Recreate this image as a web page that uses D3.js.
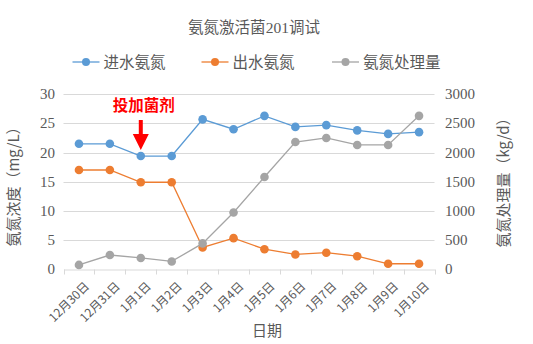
<!DOCTYPE html>
<html><head><meta charset="utf-8">
<script src="https://cdn.jsdelivr.net/npm/d3@7"></script>
<style>
html,body{margin:0;padding:0;background:#fff;}
svg{display:block;}
text{font-family:"Liberation Serif","Noto Sans CJK SC",serif;fill:#595959;}
.cjk{font-family:"Noto Sans CJK SC","Liberation Serif",sans-serif;}
</style></head>
<body>
<script>
const categories = ["12月30日","12月31日","1月1日","1月2日","1月3日","1月4日","1月5日","1月6日","1月7日","1月8日","1月9日","1月10日"];
const inflowNH3 = [21.5,21.5,19.4,19.4,25.7,24.0,26.3,24.4,24.7,23.8,23.2,23.5];
const outflowNH3 = [17.0,17.0,14.9,14.9,3.7,5.3,3.4,2.5,2.8,2.2,0.9,0.9];
const removalLoad = [70,240,190,130,440,970,1580,2180,2250,2130,2130,2630];
const leftTicks = [0,5,10,15,20,25,30];
const rightTicks = [0,500,1000,1500,2000,2500,3000];
const seriesNames = ["进水氨氮","出水氨氮","氨氮处理量"];
const colors = ["#5B9BD5","#ED7D31","#A5A5A5"];

const W=533,H=344;
const svg=d3.select("body").append("svg").attr("width",W).attr("height",H);
const L=63.5,R=434.5,T=94.3,B=269;

const x=d3.scaleBand().domain(categories).range([L,R]);
const yL=d3.scaleLinear().domain([0,30]).range([B,T]);
const yR=d3.scaleLinear().domain([0,3000]).range([B,T]);

// title
const title=svg.append("text").attr("x",254).attr("y",33).attr("text-anchor","middle")
  .attr("class","cjk").style("font-size","15.5px");
title.append("tspan").text("氨氮激活菌");
title.append("tspan").style("font-family","Liberation Serif").text("201");
title.append("tspan").text("调试");

// gridlines
svg.append("g").selectAll("line").data(leftTicks.slice(1)).join("line")
  .attr("x1",L).attr("x2",R).attr("y1",d=>Math.round(yL(d))+0.5).attr("y2",d=>Math.round(yL(d))+0.5)
  .attr("stroke","#D9D9D9").attr("stroke-width",1);

// left axis labels
svg.append("g").selectAll("text").data(leftTicks).join("text")
  .attr("x",55).attr("y",d=>yL(d)+5).attr("text-anchor","end")
  .style("font-size","15px").text(d=>d);
// right axis labels
svg.append("g").selectAll("text").data(rightTicks).join("text")
  .attr("x",445).attr("y",d=>yR(d)+5).attr("text-anchor","start")
  .style("font-size","15px").text(d=>d);

// bottom axis
const xAxis=d3.axisBottom(x).tickSize(0).tickFormat(()=> "");
const gx=svg.append("g").attr("transform",`translate(0,${Math.round(B)+0.5})`).call(xAxis);
gx.select(".domain").attr("stroke","#D9D9D9");
const edges=categories.map((c,i)=>L+i*x.step()).concat([R]);
gx.selectAll(".edge").data(edges).join("line").attr("class","edge")
  .attr("x1",d=>Math.round(d)+0.5).attr("x2",d=>Math.round(d)+0.5).attr("y1",0).attr("y2",5)
  .attr("stroke","#D9D9D9");
svg.append("g").selectAll("text").data(categories).join("text")
  .attr("class","cjk")
  .attr("transform",d=>`translate(${x(d)+x.bandwidth()/2+5},${B+12}) rotate(-45)`)
  .attr("text-anchor","end").attr("dy","0.7em").style("font-size","12px").text(d=>d);

// axis titles
svg.append("text").attr("class","cjk").attr("transform","translate(19,183) rotate(-90)")
  .attr("text-anchor","middle").style("font-size","15px").text("氨氮浓度（mg/L）");
svg.append("text").attr("class","cjk").attr("transform","translate(509,179) rotate(-90)")
  .attr("text-anchor","middle").style("font-size","15px").text("氨氮处理量（kg/d）");
svg.append("text").attr("class","cjk").attr("x",267).attr("y",336).attr("text-anchor","middle")
  .style("font-size","15px").text("日期");

// series
const cx=d=>x(d)+x.bandwidth()/2;
const series=[
  {vals:inflowNH3,y:yL,c:colors[0]},
  {vals:outflowNH3,y:yL,c:colors[1]},
  {vals:removalLoad,y:yR,c:colors[2]}
];
series.forEach(s=>{
  const pts=categories.map((c,i)=>[cx(c),s.y(s.vals[i])]);
  svg.append("path").attr("d",d3.line()(pts)).attr("fill","none")
    .attr("stroke",s.c).attr("stroke-width",1.3);
  svg.append("g").selectAll("circle").data(pts).join("circle")
    .attr("cx",d=>d[0]).attr("cy",d=>d[1]).attr("r",4.3).attr("fill",s.c);
});

// legend
const legX=[72.5,201.5,332];
seriesNames.forEach((n,i)=>{
  const g=svg.append("g").attr("transform",`translate(${legX[i]},62)`);
  g.append("line").attr("x1",0).attr("x2",27).attr("stroke",colors[i]).attr("stroke-width",1.3);
  g.append("circle").attr("cx",13.5).attr("r",4).attr("fill",colors[i]);
  g.append("text").attr("class","cjk").attr("x",31).attr("y",5.5).style("font-size","15.5px").text(n);
});

// annotation
const ax=cx(categories[2]);
svg.append("text").attr("class","cjk").attr("x",ax+3).attr("y",111).attr("text-anchor","middle")
  .style("font-size","15.5px").style("font-weight","bold").style("fill","#FF0000").text("投加菌剂");
svg.append("path")
  .attr("d",`M${ax-2},120 L${ax+2},120 L${ax+2},134 L${ax+8},134 L${ax},150 L${ax-8},134 L${ax-2},134 Z`)
  .attr("fill","#FF0000");
</script>
</body></html>
